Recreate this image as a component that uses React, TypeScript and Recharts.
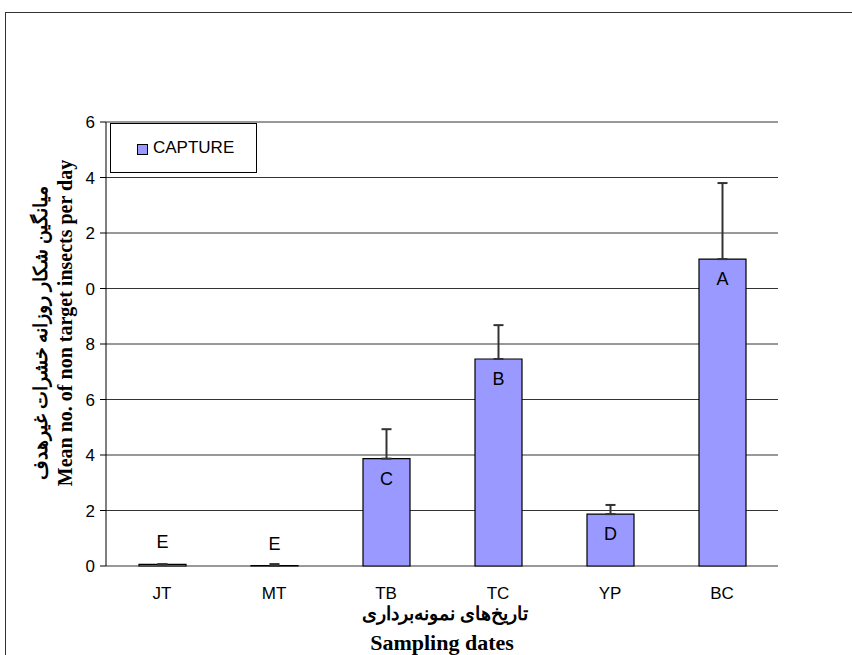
import React from 'react';
import { BarChart, Bar, XAxis, YAxis, CartesianGrid, ErrorBar, LabelList } from 'recharts';

const categories = ['JT', 'MT', 'TB', 'TC', 'YP', 'BC'];
const means = [0.06, 0.01, 3.87, 7.46, 1.87, 11.06];
const errors = [0, 0.06, 1.06, 1.22, 0.33, 2.74];
const letters = ['E', 'E', 'C', 'B', 'D', 'A'];
const yTicks = [0, 2, 4, 6, 8, 10, 12, 14, 16];
const edgeTicks = [0, 1, 2, 3, 4, 5, 6];

const data = categories.map((name, i) => ({
  name,
  value: means[i],
  err: [0, errors[i]],
  letter: letters[i],
}));

const sans = 'Arial, "Liberation Sans", sans-serif';
const serif = '"Times New Roman", "Liberation Serif", "DejaVu Serif", serif';

// category labels under the axis
const CatTick = (props: any) => {
  const { x, y, payload } = props;
  return (
    <text x={x} y={y + 13} textAnchor="middle" fontSize={17} fontFamily={sans} fill="#000">
      {payload.value}
    </text>
  );
};

// only the last digit survives in the original, so 10..16 show as 0..6
const ValTick = (props: any) => {
  const { x, y, payload } = props;
  return (
    <text x={x} y={y + 6} textAnchor="end" fontSize={17} fontFamily={sans} fill="#000">
      {String(payload.value % 10)}
    </text>
  );
};

const renderLetter = (props: any) => {
  const { x, y, width, height, value } = props;
  const small = height < 20;
  return (
    <text
      x={x + width / 2}
      y={small ? y - 16 : y + 26}
      textAnchor="middle"
      fontSize={18}
      fontFamily={sans}
      fill="#000"
    >
      {value}
    </text>
  );
};

export default function App() {
  return (
    <div style={{ position: 'fixed', left: 0, top: 0, width: 852, height: 655, background: '#fff', overflow: 'hidden' }}>
      <div style={{ position: 'absolute', left: 5, top: 12, width: 900, height: 700, border: '1.5px solid #333' }} />
      <BarChart width={852} height={655} data={data} margin={{ top: 122, right: 74, left: 46, bottom: 59 }}>
        <CartesianGrid vertical={false} stroke="#333" strokeWidth={1} />
        <XAxis
          xAxisId="edge"
          type="number"
          domain={[0, 6]}
          ticks={edgeTicks}
          tick={false}
          height={0}
          axisLine={{ stroke: '#000' }}
          tickLine={{ stroke: '#000' }}
          tickSize={6}
        />
        <XAxis
          xAxisId="cat"
          dataKey="name"
          axisLine={false}
          tickLine={false}
          height={30}
          tickMargin={14}
          tick={<CatTick />}
        />
        <YAxis
          width={60}
          domain={[0, 16]}
          ticks={yTicks}
          axisLine={{ stroke: '#000' }}
          tickLine={{ stroke: '#000' }}
          tickSize={6}
          tickMargin={5}
          tick={<ValTick />}
        />
        <Bar
          xAxisId="cat"
          dataKey="value"
          fill="#9999FF"
          stroke="#000"
          strokeWidth={1.2}
          barSize={47}
          isAnimationActive={false}
        >
          <ErrorBar dataKey="err" direction="y" width={5} stroke="#333" strokeWidth={2} />
          <LabelList dataKey="letter" content={renderLetter} />
        </Bar>
      </BarChart>

      <div style={{ position: 'absolute', left: 110, top: 123, width: 147, height: 50, border: '1px solid #000', background: '#fff', boxSizing: 'border-box' }}>
        <div style={{ position: 'absolute', left: 26, top: 20, width: 11, height: 11, background: '#9999FF', border: '1px solid #000', boxSizing: 'border-box' }} />
        <div style={{ position: 'absolute', left: 42, top: 14, fontFamily: sans, fontSize: 17, color: '#000', lineHeight: '20px' }}>CAPTURE</div>
      </div>

      <div style={{ position: 'absolute', left: 65, top: 323, transform: 'translate(-50%, -50%) rotate(-90deg)', whiteSpace: 'nowrap', fontFamily: serif, fontWeight: 'bold', fontSize: 20, color: '#000' }}>
        Mean no. of non target insects per day
      </div>
      <div dir="rtl" style={{ position: 'absolute', left: 40, top: 333, transform: 'translate(-50%, -50%) rotate(-90deg)', whiteSpace: 'nowrap', fontFamily: serif, fontWeight: 'bold', fontSize: 19, color: '#000' }}>
        میانگین شکار روزانه خشرات غیرهدف
      </div>
      <div dir="rtl" style={{ position: 'absolute', left: 445, top: 613, transform: 'translate(-50%, -50%)', whiteSpace: 'nowrap', fontFamily: serif, fontWeight: 'bold', fontSize: 19, color: '#000' }}>
        تاریخ‌های نمونه‌برداری
      </div>
      <div style={{ position: 'absolute', left: 442, top: 643, transform: 'translate(-50%, -50%)', whiteSpace: 'nowrap', fontFamily: serif, fontWeight: 'bold', fontSize: 22, color: '#000' }}>
        Sampling dates
      </div>
    </div>
  );
}
